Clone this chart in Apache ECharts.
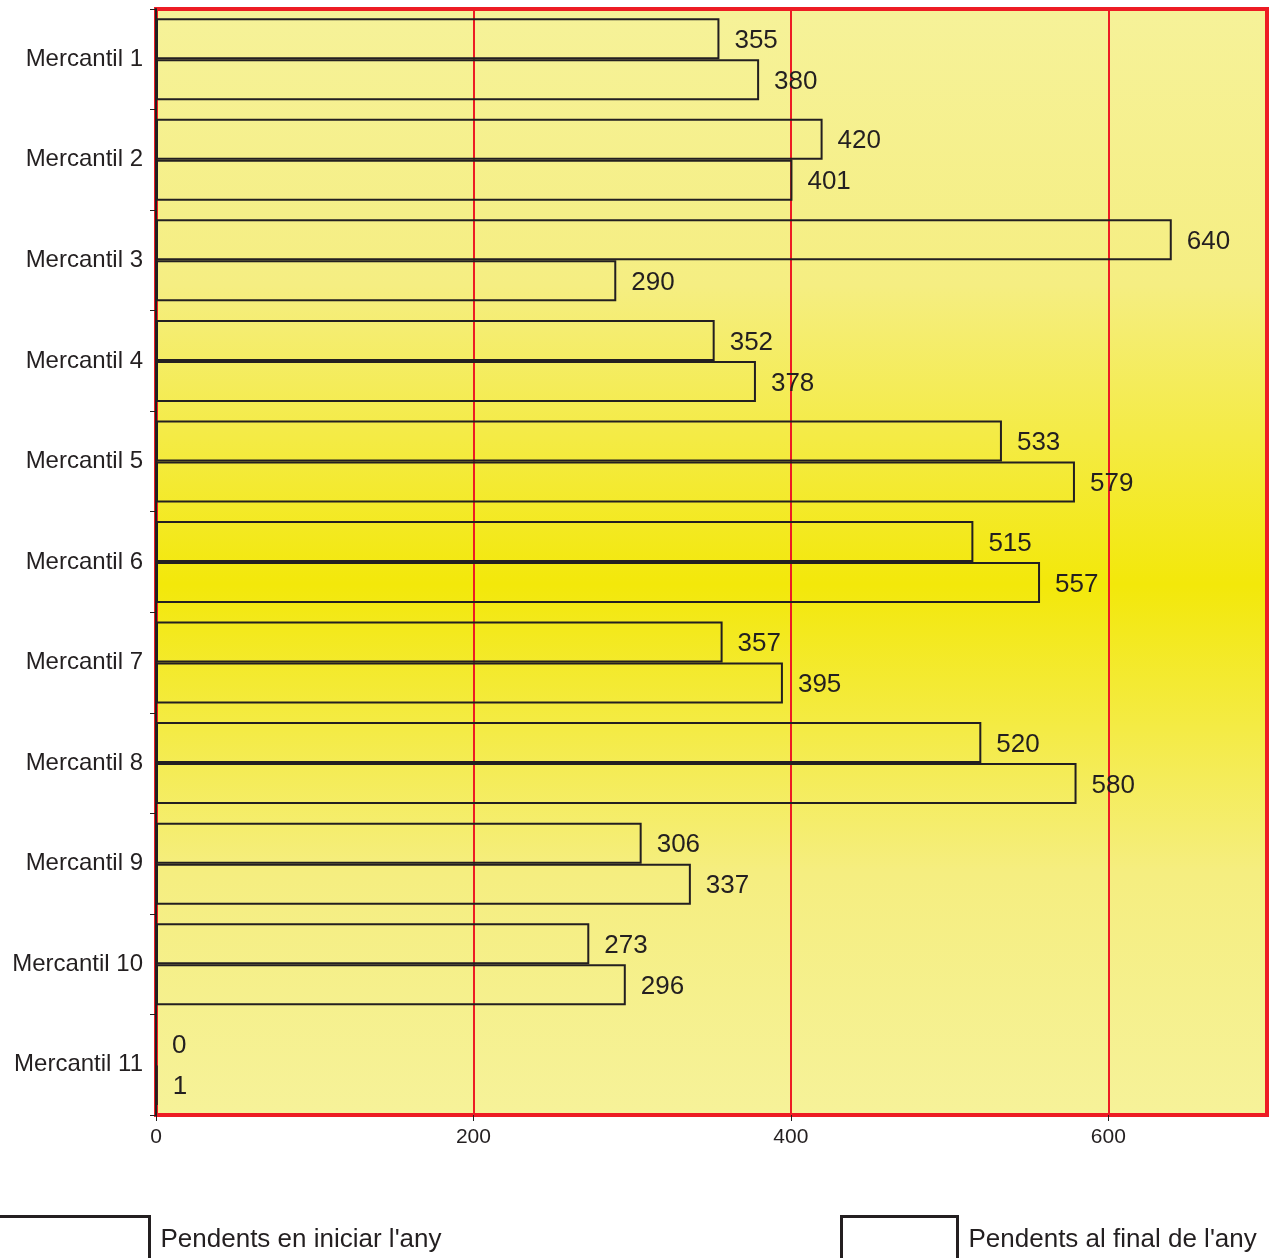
<!DOCTYPE html>
<html>
<head>
<meta charset="utf-8">
<style>
html,body{margin:0;padding:0;background:#fff;}
#chart{width:1269px;height:1258px;}
</style>
<script src="https://cdn.jsdelivr.net/npm/echarts@6/dist/echarts.min.js"></script>
</head>
<body>
<div id="chart"></div>
<script>
var categories = ['Mercantil 1','Mercantil 2','Mercantil 3','Mercantil 4','Mercantil 5','Mercantil 6','Mercantil 7','Mercantil 8','Mercantil 9','Mercantil 10','Mercantil 11'];
var seriesNames = ["Pendents en iniciar l'any", "Pendents al final de l'any"];
var startValues = [355, 420, 640, 352, 533, 515, 357, 520, 306, 273, 0];
var endValues = [380, 401, 290, 378, 579, 557, 395, 580, 337, 296, 1];
var xTicks = [0, 200, 400, 600];

var FONT = 'Liberation Sans, Arial, sans-serif';
var TXT = '#231f20';
var RED = '#ed1c24';

var chart = echarts.init(document.getElementById('chart'));

function barSeries(name, data) {
  return {
    name: name,
    type: 'bar',
    data: data,
    barWidth: 41,
    barGap: '0%',
    itemStyle: { color: 'rgba(0,0,0,0)', borderColor: TXT, borderWidth: 2 },
    label: {
      show: true, position: 'right', distance: 15, offset: [0, 2],
      color: TXT, fontSize: 26, fontFamily: FONT
    },
    emphasis: { disabled: true },
    animation: false
  };
}

chart.setOption({
  animation: false,
  grid: {
    left: 156, top: 9, right: 2, bottom: 143,
    show: true,
    borderColor: RED, borderWidth: 4,
    backgroundColor: {
      type: 'linear', x: 0, y: 0, x2: 0, y2: 1,
      colorStops: [
        { offset: 0, color: '#f6f299' },
        { offset: 0.25, color: '#f5ee82' },
        { offset: 0.52, color: '#f3e80a' },
        { offset: 0.78, color: '#f5ee80' },
        { offset: 1, color: '#f6f299' }
      ]
    }
  },
  xAxis: {
    type: 'value',
    min: 0, max: 700, interval: 200,
    axisLine: { show: false },
    axisTick: { show: true, length: 6, lineStyle: { color: TXT, width: 1 } },
    axisLabel: {
      color: TXT, fontSize: 21, fontFamily: FONT, margin: 12,
      showMaxLabel: false,
      formatter: function (v) { return xTicks.indexOf(v) >= 0 ? String(v) : ''; }
    },
    splitLine: { show: true, lineStyle: { color: RED, width: 2 } }
  },
  yAxis: {
    type: 'category',
    data: categories,
    inverse: true,
    axisLine: { show: true, lineStyle: { color: TXT, width: 2 } },
    axisTick: { show: true, length: 6, lineStyle: { color: TXT, width: 1 } },
    axisLabel: { color: TXT, fontSize: 24, fontFamily: FONT, margin: 13 },
    splitLine: { show: false }
  },
  legend: [
    {
      data: [seriesNames[0]],
      left: -12, top: 1215, padding: 0,
      itemWidth: 160, itemHeight: 46, icon: 'rect',
      itemStyle: { borderWidth: 3, borderColor: TXT, color: 'rgba(0,0,0,0)' },
      textStyle: { color: TXT, fontSize: 26, fontFamily: FONT, padding: [0, 0, 0, 6] },
      selectedMode: false
    },
    {
      data: [seriesNames[1]],
      left: 840, top: 1215, padding: 0,
      itemWidth: 116, itemHeight: 46, icon: 'rect',
      itemStyle: { borderWidth: 3, borderColor: TXT, color: 'rgba(0,0,0,0)' },
      textStyle: { color: TXT, fontSize: 26, fontFamily: FONT, padding: [0, 0, 0, 6] },
      selectedMode: false
    }
  ],
  series: [
    barSeries(seriesNames[0], startValues),
    barSeries(seriesNames[1], endValues)
  ]
});
</script>
</body>
</html>
